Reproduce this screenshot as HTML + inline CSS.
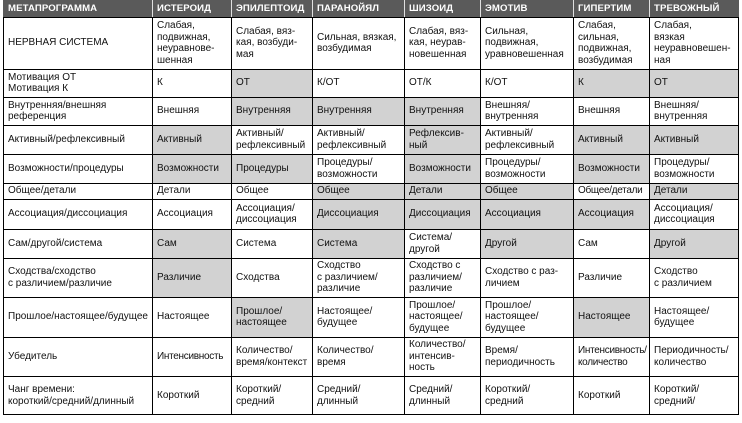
<!DOCTYPE html>
<html><head><meta charset="utf-8">
<style>
html,body{margin:0;padding:0;background:#fff;}
body{width:742px;height:423px;position:relative;overflow:hidden;font-family:"Liberation Sans","Noto Sans CJK SC",Arial,sans-serif;color:#111;}
.row{position:absolute;left:0;width:742px;}
.c{position:absolute;top:0;bottom:0;display:flex;align-items:center;padding-left:5px;box-sizing:border-box;white-space:nowrap;font-size:10px;line-height:11.5px;}
.s{background:#d2d2d2;}
.t{letter-spacing:-0.3px;}
.c0{left:3px;width:149px;}
.c1{left:152px;width:79px;}
.c2{left:231px;width:81px;}
.c3{left:312px;width:92px;}
.c4{left:404px;width:76px;}
.c5{left:480px;width:93px;}
.c6{left:573px;width:76px;}
.c7{left:649px;width:90px;}
.hd .c{background:#5a5a5a;color:#fff;font-weight:bold;font-size:9.6px;letter-spacing:0.1px;}
.h{position:absolute;left:3px;width:736px;height:1px;background:#000;}
.v{position:absolute;top:17px;height:398px;width:1px;background:#000;}
.vw{position:absolute;top:0;height:17px;width:1px;background:#e0e0e0;}
</style></head><body>

<div class="row hd" style="top:0;height:17px;">
<div class="c c0">МЕТАПРОГРАММА</div>
<div class="c c1">ИСТЕРОИД</div>
<div class="c c2">ЭПИЛЕПТОИД</div>
<div class="c c3">ПАРАНОЙЯЛ</div>
<div class="c c4">ШИЗОИД</div>
<div class="c c5">ЭМОТИВ</div>
<div class="c c6">ГИПЕРТИМ</div>
<div class="c c7">ТРЕВОЖНЫЙ</div>
</div>

<div class="row" style="top:17px;height:52px;">
<div class="c c0">НЕРВНАЯ СИСТЕМА</div>
<div class="c c1">Слабая,<br>подвижная,<br>неуравнове-<br>шенная</div>
<div class="c c2">Слабая, вяз-<br>кая, возбуди-<br>мая</div>
<div class="c c3">Сильная, вязкая,<br>возбудимая</div>
<div class="c c4">Слабая, вяз-<br>кая, неурав-<br>новешенная</div>
<div class="c c5">Сильная,<br>подвижная,<br>уравновешенная</div>
<div class="c c6">Слабая,<br>сильная,<br>подвижная,<br>возбудимая</div>
<div class="c c7">Слабая,<br>вязкая<br>неуравновешен-<br>ная</div>
</div>

<div class="row" style="top:69px;height:28px;">
<div class="c c0">Мотивация ОТ<br>Мотивация К</div>
<div class="c c1">К</div>
<div class="c c2 s">ОТ</div>
<div class="c c3">К/ОТ</div>
<div class="c c4">ОТ/К</div>
<div class="c c5">К/ОТ</div>
<div class="c c6 s">К</div>
<div class="c c7 s">ОТ</div>
</div>

<div class="row" style="top:97px;height:28px;">
<div class="c c0">Внутренняя/внешняя<br>референция</div>
<div class="c c1">Внешняя</div>
<div class="c c2 s">Внутренняя</div>
<div class="c c3 s">Внутренняя</div>
<div class="c c4 s">Внутренняя</div>
<div class="c c5">Внешняя/<br>внутренняя</div>
<div class="c c6">Внешняя</div>
<div class="c c7">Внешняя/<br>внутренняя</div>
</div>

<div class="row" style="top:125px;height:29px;">
<div class="c c0">Активный/рефлексивный</div>
<div class="c c1 s">Активный</div>
<div class="c c2">Активный/<br>рефлексивный</div>
<div class="c c3">Активный/<br>рефлексивный</div>
<div class="c c4 s">Рефлексив-<br>ный</div>
<div class="c c5">Активный/<br>рефлексивный</div>
<div class="c c6 s">Активный</div>
<div class="c c7 s">Активный</div>
</div>

<div class="row" style="top:154px;height:29px;">
<div class="c c0">Возможности/процедуры</div>
<div class="c c1 s">Возможности</div>
<div class="c c2 s">Процедуры</div>
<div class="c c3">Процедуры/<br>возможности</div>
<div class="c c4 s">Возможности</div>
<div class="c c5">Процедуры/<br>возможности</div>
<div class="c c6 s">Возможности</div>
<div class="c c7">Процедуры/<br>возможности</div>
</div>

<div class="row" style="top:183px;height:16px;">
<div class="c c0">Общее/детали</div>
<div class="c c1">Детали</div>
<div class="c c2">Общее</div>
<div class="c c3 s">Общее</div>
<div class="c c4 s">Детали</div>
<div class="c c5 s">Общее</div>
<div class="c c6 t">Общее/детали</div>
<div class="c c7 s">Детали</div>
</div>

<div class="row" style="top:199px;height:30px;">
<div class="c c0">Ассоциация/диссоциация</div>
<div class="c c1">Ассоциация</div>
<div class="c c2">Ассоциация/<br>диссоциация</div>
<div class="c c3 s">Диссоциация</div>
<div class="c c4 s">Диссоциация</div>
<div class="c c5 s">Ассоциация</div>
<div class="c c6 s">Ассоциация</div>
<div class="c c7">Ассоциация/<br>диссоциация</div>
</div>

<div class="row" style="top:229px;height:29px;">
<div class="c c0">Сам/другой/система</div>
<div class="c c1 s">Сам</div>
<div class="c c2">Система</div>
<div class="c c3 s">Система</div>
<div class="c c4">Система/<br>другой</div>
<div class="c c5 s">Другой</div>
<div class="c c6">Сам</div>
<div class="c c7 s">Другой</div>
</div>

<div class="row" style="top:258px;height:39px;">
<div class="c c0">Сходства/сходство<br>с различием/различие</div>
<div class="c c1 s">Различие</div>
<div class="c c2">Сходства</div>
<div class="c c3">Сходство<br>с различием/<br>различие</div>
<div class="c c4">Сходство с<br>различием/<br>различие</div>
<div class="c c5">Сходство с раз-<br>личием</div>
<div class="c c6">Различие</div>
<div class="c c7">Сходство<br>с различием</div>
</div>

<div class="row" style="top:297px;height:40px;">
<div class="c c0">Прошлое/настоящее/будущее</div>
<div class="c c1">Настоящее</div>
<div class="c c2 s">Прошлое/<br>настоящее</div>
<div class="c c3">Настоящее/<br>будущее</div>
<div class="c c4">Прошлое/<br>настоящее/<br>будущее</div>
<div class="c c5">Прошлое/<br>настоящее/<br>будущее</div>
<div class="c c6 s">Настоящее</div>
<div class="c c7">Настоящее/<br>будущее</div>
</div>

<div class="row" style="top:337px;height:39px;">
<div class="c c0">Убедитель</div>
<div class="c c1 t">Интенсивность</div>
<div class="c c2">Количество/<br>время/контекст</div>
<div class="c c3">Количество/<br>время</div>
<div class="c c4">Количество/<br>интенсив-<br>ность</div>
<div class="c c5">Время/<br>периодичность</div>
<div class="c c6 t">Интенсивность/<br>количество</div>
<div class="c c7">Периодичность/<br>количество</div>
</div>

<div class="row" style="top:376px;height:39px;">
<div class="c c0">Чанг времени:<br>короткий/средний/длинный</div>
<div class="c c1">Короткий</div>
<div class="c c2">Короткий/<br>средний</div>
<div class="c c3">Средний/<br>длинный</div>
<div class="c c4">Средний/<br>длинный</div>
<div class="c c5">Короткий/<br>средний</div>
<div class="c c6">Короткий</div>
<div class="c c7">Короткий/<br>средний/</div>
</div>

<div class="h" style="top:17px"></div>
<div class="h" style="top:69px"></div>
<div class="h" style="top:97px"></div>
<div class="h" style="top:125px"></div>
<div class="h" style="top:154px"></div>
<div class="h" style="top:183px"></div>
<div class="h" style="top:199px"></div>
<div class="h" style="top:229px"></div>
<div class="h" style="top:258px"></div>
<div class="h" style="top:297px"></div>
<div class="h" style="top:337px"></div>
<div class="h" style="top:376px"></div>
<div class="h" style="top:414px"></div>

<div class="v" style="left:3px"></div>
<div class="v" style="left:152px"></div>
<div class="v" style="left:231px"></div>
<div class="v" style="left:312px"></div>
<div class="v" style="left:404px"></div>
<div class="v" style="left:480px"></div>
<div class="v" style="left:573px"></div>
<div class="v" style="left:649px"></div>
<div class="v" style="left:738px"></div>

<div class="vw" style="left:152px"></div>
<div class="vw" style="left:231px"></div>
<div class="vw" style="left:312px"></div>
<div class="vw" style="left:404px"></div>
<div class="vw" style="left:480px"></div>
<div class="vw" style="left:573px"></div>
<div class="vw" style="left:649px"></div>

</body></html>
